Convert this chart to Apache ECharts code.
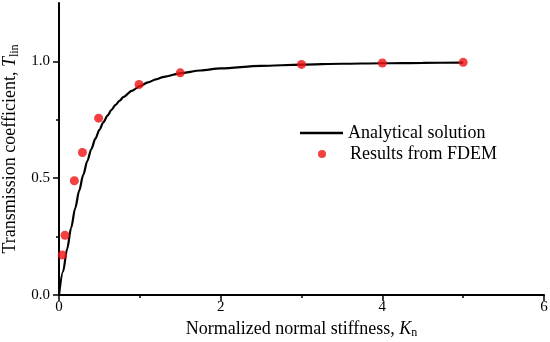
<!DOCTYPE html>
<html><head><meta charset="utf-8">
<script src="https://cdn.jsdelivr.net/npm/echarts@6/dist/echarts.min.js"></script>
<style>html,body{margin:0;padding:0;background:#fff}#c{width:550px;height:342px}</style>
</head><body><div id="c"></div>
<script>
// Analytical solution curve
var curveKn = [0, 0.05, 0.1, 0.15, 0.2, 0.25, 0.3, 0.35, 0.4, 0.45, 0.5, 0.55, 0.6, 0.65, 0.7, 0.75, 0.8, 0.9, 1.0, 1.1, 1.2, 1.3, 1.5, 1.75, 2.0, 2.5, 3.0, 3.5, 4.0, 4.5, 5.0];
var curveT  = [0, 0.10, 0.196, 0.287, 0.371, 0.447, 0.514, 0.573, 0.625, 0.669, 0.707, 0.740, 0.768, 0.793, 0.814, 0.832, 0.848, 0.874, 0.894, 0.910, 0.923, 0.934, 0.949, 0.961, 0.970, 0.981, 0.986, 0.990, 0.992, 0.994, 0.995];
// FDEM results
var fdemKn = [0.04, 0.074, 0.19, 0.29, 0.49, 0.99, 1.5, 3.0, 4.0, 5.0];
var fdemT  = [0.171, 0.256, 0.489, 0.61, 0.757, 0.901, 0.951, 0.987, 0.993, 0.996];
// axis ticks
var yMajor = [0, 0.5, 1.0];
var yMinor = [0.25, 0.75];

var font = 'Liberation Serif';
var chart = echarts.init(document.getElementById('c'));
var lineData = curveKn.map(function(k, i){ return [k, curveT[i]]; });
var dotData = fdemKn.map(function(k, i){ return [k, fdemT[i]]; });
var axisLine = {show: true, onZero: false, lineStyle: {color: '#000', width: 2}};
var nameRich = {
  a: {fontFamily: font, fontSize: 18, color: '#000'},
  i: {fontFamily: font, fontSize: 18, fontStyle: 'italic', color: '#000'},
  s: {fontFamily: font, fontSize: 12, color: '#000', padding: [8, 0, 0, 0]}
};
chart.setOption({
  animation: false,
  backgroundColor: '#fff',
  grid: {left: 59, right: 6, top: 3, bottom: 47, containLabel: false, outerBoundsMode: 'none'},
  legend: [{
    data: [{name: 'Analytical solution', icon: 'rect'}], orient: 'vertical', left: 295, top: 119,
    itemWidth: 43, itemHeight: 2.5,
    textStyle: {fontFamily: font, fontSize: 18, color: '#000'}
  }, {
    data: [{name: 'Results from FDEM', icon: 'circle'}], orient: 'vertical', left: 313, top: 140,
    itemWidth: 8, itemHeight: 8,
    textStyle: {fontFamily: font, fontSize: 18, color: '#000', padding: [0, 0, 0, 19]}
  }],
  xAxis: {
    type: 'value', min: 0, max: 6, interval: 2,
    axisLine: axisLine,
    axisTick: {show: true, length: 6, lineStyle: {color: '#000', width: 1.5}},
    minorTick: {show: true, splitNumber: 2, length: 3, lineStyle: {color: '#000', width: 1.5}},
    splitLine: {show: false},
    axisLabel: {fontFamily: font, fontSize: 15, color: '#000', margin: 5},
    name: '{a|Normalized normal stiffness, }{i|K}{s|n}',
    nameLocation: 'middle', nameGap: 20,
    nameTextStyle: {rich: nameRich}
  },
  yAxis: [{
    type: 'value', min: 0, max: 1.25,
    axisLine: axisLine,
    axisTick: {show: true, customValues: yMinor, length: 3, lineStyle: {color: '#000', width: 1.5}},
    splitLine: {show: false},
    axisLabel: {customValues: yMajor, fontFamily: font, fontSize: 15, color: '#000', margin: 9,
      formatter: function(v){ return v.toFixed(1); }},
    name: '{a|Transmission coefficient, }{i|T}{s|lin}',
    nameLocation: 'middle', nameGap: 36, nameRotate: 90,
    nameTextStyle: {rich: nameRich}
  }, {
    type: 'value', min: 0, max: 1.25, position: 'left',
    axisLine: {show: false},
    axisTick: {show: true, customValues: yMajor, length: 6, lineStyle: {color: '#000', width: 1.5}},
    splitLine: {show: false},
    axisLabel: {show: false}
  }],
  series: [{
    name: 'Analytical solution', type: 'line', data: lineData, smooth: 0.3, smoothMonotone: 'x',
    symbol: 'none', lineStyle: {color: '#000', width: 2.2}, itemStyle: {color: '#000'}, z: 2
  }, {
    name: 'Results from FDEM', type: 'scatter', data: dotData, symbolSize: 9,
    itemStyle: {color: '#f01010'}, z: 3
  }]
});
</script></body></html>
